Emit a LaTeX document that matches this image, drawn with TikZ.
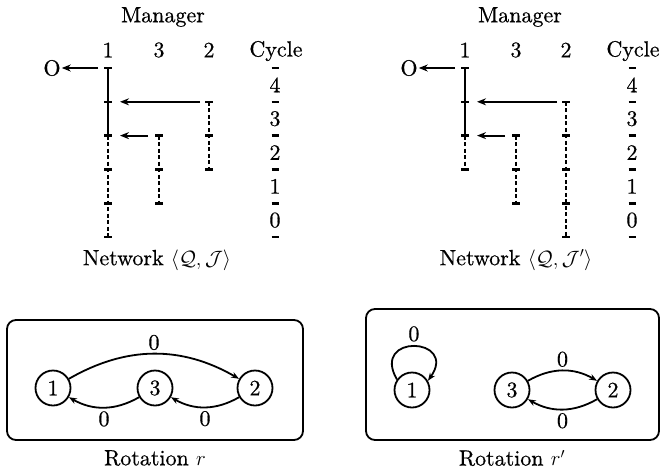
\documentclass[tikz,border=0pt]{standalone}
\usepackage{fontspec}
\setmainfont{lmroman10-regular.otf}[FakeBold=0.6]
\usetikzlibrary{arrows.meta,calc}
\begin{document}
\begin{tikzpicture}[x=1pt,y=-1pt,
  font=\fontsize{22}{26}\selectfont,
  lbl/.style={inner sep=1pt},
  solidline/.style={line width=2.6pt},
  dashline/.style={line width=2.6pt, dash pattern=on 4pt off 2.5pt},
  tickbar/.style={line width=2.6pt},
  arr/.style={line width=2.2pt, -{Stealth[length=9pt,width=7pt]}},
  state/.style={circle, draw, line width=1.8pt, minimum size=35pt, inner sep=0pt},
  edge/.style={line width=1.8pt, -{Stealth[length=8pt,width=6pt]}},
  rbox/.style={draw, rounded corners=9pt, line width=1.8pt}]
\useasboundingbox (0,0) rectangle (661,472);

% ---------- network <Q,J> ----------
\node[lbl] (Lman) at (163,17) {Manager};
\node[lbl] (Lh1) at (108,50) {1};
\node[lbl] (Lh3) at (159,50) {3};
\node[lbl] (Lh2) at (209,50) {2};
\node[lbl] (Lcyc) at (276,51) {Cycle};
\node[lbl] (Lnet) at (157,260) {Network $\langle\mathcal{Q},\mathcal{J}\rangle$};

\foreach \k/\yy in {0/68,1/101.8,2/135.6,3/169.4,4/203.2,5/237}{
  \coordinate (La\k) at (108,\yy);
  \coordinate (Lb\k) at (209,\yy);
  \coordinate (Lc\k) at (159,\yy);
  \coordinate (Ly\k) at (275,\yy);
}
\draw[solidline] (La0) -- (La2);
\draw[dashline] (La2) -- (La5);
\draw[dashline] (Lb1) -- (Lb3);
\draw[dashline] (Lc2) -- (Lc4);
\foreach \p in {La0,La1,La2,La3,La4,La5,Lb1,Lb2,Lb3,Lc2,Lc3,Lc4}
  \draw[tickbar] ([xshift=-4pt]\p) -- ([xshift=4pt]\p);
\foreach \p in {Ly0,Ly1,Ly2,Ly3,Ly4,Ly5}
  \draw[tickbar] ([xshift=-3.5pt]\p) -- ([xshift=3.5pt]\p);
\foreach \k/\n in {0/4,1/3,2/2,3/1,4/0}{
  \pgfmathtruncatemacro{\kk}{\k+1}
  \node[lbl] (Lnum\n) at ($(Ly\k)!0.5!(Ly\kk)$) {\n};
}
\node[lbl] (LO) at (52,68) {O};
\draw[arr] ([xshift=-10pt]La0) -- (LO);
\draw[arr] ([xshift=-9pt]Lb1) -- ([xshift=12pt]La1);
\draw[arr] ([xshift=-11pt]Lc2) -- ([xshift=12pt]La2);

% ---------- network <Q,J'> ----------
\node[lbl] (Rman) at (520,17) {Manager};
\node[lbl] (Rh1) at (465,50) {1};
\node[lbl] (Rh3) at (516,50) {3};
\node[lbl] (Rh2) at (566,50) {2};
\node[lbl] (Rcyc) at (633,51) {Cycle};
\node[lbl] (Rnet) at (516,260) {Network $\langle\mathcal{Q},\mathcal{J}'\rangle$};

\foreach \k/\yy in {0/68,1/101.8,2/135.6,3/169.4,4/203.2,5/237}{
  \coordinate (Ra\k) at (465,\yy);
  \coordinate (Rb\k) at (566,\yy);
  \coordinate (Rc\k) at (516,\yy);
  \coordinate (Ry\k) at (632,\yy);
}
\draw[solidline] (Ra0) -- (Ra2);
\draw[dashline] (Ra2) -- (Ra3);
\draw[dashline] (Rb1) -- (Rb5);
\draw[dashline] (Rc2) -- (Rc4);
\foreach \p in {Ra0,Ra1,Ra2,Ra3,Rb1,Rb2,Rb3,Rb4,Rb5,Rc2,Rc3,Rc4}
  \draw[tickbar] ([xshift=-4pt]\p) -- ([xshift=4pt]\p);
\foreach \p in {Ry0,Ry1,Ry2,Ry3,Ry4,Ry5}
  \draw[tickbar] ([xshift=-3.5pt]\p) -- ([xshift=3.5pt]\p);
\foreach \k/\n in {0/4,1/3,2/2,3/1,4/0}{
  \pgfmathtruncatemacro{\kk}{\k+1}
  \node[lbl] (Rnum\n) at ($(Ry\k)!0.5!(Ry\kk)$) {\n};
}
\node[lbl] (RO) at (409,68) {O};
\draw[arr] ([xshift=-10pt]Ra0) -- (RO);
\draw[arr] ([xshift=-9pt]Rb1) -- ([xshift=12pt]Ra1);
\draw[arr] ([xshift=-11pt]Rc2) -- ([xshift=12pt]Ra2);

% ---------- rotation r ----------
\node[rbox, minimum width=296pt, minimum height=120pt] (Lbox) at (155,380) {};
\node[state] (N1) at (53,388) {1};
\node[state] (N3) at (155,388) {3};
\node[state] (N2) at (255,388) {2};
\draw[edge] (N1) to[bend left=30] node[lbl, above=2pt] (e12) {0} (N2);
\draw[edge] (N3) to[bend left=30] node[lbl, below=2pt] (e31) {0} (N1);
\draw[edge] (N2) to[bend left=30] node[lbl, below=2pt] (e23) {0} (N3);
\node[lbl] (Lrot) at (155,458) {Rotation $r$};

% ---------- rotation r' ----------
\node[rbox, minimum width=293pt, minimum height=131pt] (Rbox) at (512.5,374.5) {};
\node[state] (M1) at (412,390) {1};
\node[state] (M3) at (512,390) {3};
\node[state] (M2) at (613,390) {2};
\draw[edge] (M1.145) to[out=120, in=55, looseness=4.4] node[lbl, above=3pt] (e11) {0} (M1.30);
\draw[edge] (M3) to[bend left=30] node[lbl, above=2pt] (e32) {0} (M2);
\draw[edge] (M2) to[bend left=30] node[lbl, below=2pt] (e23b) {0} (M3);
\node[lbl] (Rrot) at (512,458) {Rotation $r'$};
\end{tikzpicture}
\end{document}
